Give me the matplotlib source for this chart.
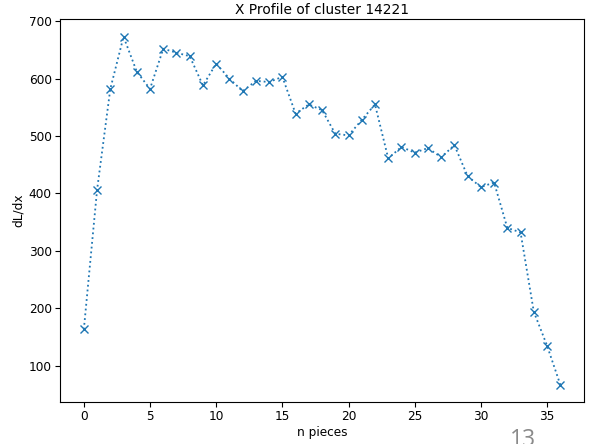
import matplotlib
matplotlib.use('Agg')
import matplotlib.pyplot as plt
import numpy as np

# dL/dx per piece
n_pieces = np.arange(37)
dl_dx = [163, 406, 582, 673, 612, 582, 652, 645, 639, 588,
         626, 600, 578, 596, 594, 603, 539, 555, 545, 504,
         501, 528, 555, 461, 481, 471, 479, 463, 484, 430,
         411, 419, 340, 332, 194, 135, 67]

title = 'X Profile of cluster 14221'
page_number = '13'

plt.rcParams['font.size'] = 8.7

fig = plt.figure(figsize=(5.96, 4.44), dpi=100)
ax = fig.add_axes([0.1007, 0.0946, 0.8793, 0.862])
ax.plot(n_pieces, dl_dx, linestyle=':', marker='x', color='#1f77b4',
        linewidth=1.3, markersize=6)

ax.set_xlabel('n pieces', labelpad=2)
ax.set_ylabel('dL/dx', labelpad=3)
ax.set_title(title, fontsize=9.9, pad=4)
ax.set_xticks([0, 5, 10, 15, 20, 25, 30, 35])
ax.set_yticks([100, 200, 300, 400, 500, 600, 700])
ax.tick_params(length=3.5, width=0.8, pad=2.5)

# slide number peeking in at the bottom (cut off in the original too)
fig.text(0.8775, 1 - 428 / 444, page_number, ha='center', va='top',
         fontsize=16.5, color='#8a8a8a', family='Open Sans')

fig.savefig('out.png', dpi=100)
